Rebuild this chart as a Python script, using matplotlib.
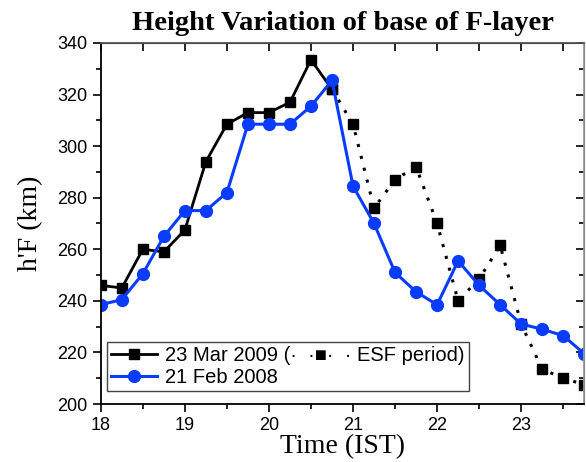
import matplotlib.pyplot as plt
from matplotlib.ticker import MultipleLocator
from matplotlib.lines import Line2D

# local time (IST), 15 min steps
time_ist = [18.0, 18.25, 18.5, 18.75, 19.0, 19.25, 19.5, 19.75,
            20.0, 20.25, 20.5, 20.75, 21.0, 21.25, 21.5, 21.75,
            22.0, 22.25, 22.5, 22.75, 23.0, 23.25, 23.5, 23.75]

# h'F (km) on 23 Mar 2009
hf_mar2009 = [246, 245, 260, 259, 267.5, 294, 308.5, 313,
              313, 317, 333.5, 322, 308.5, 276, 287, 292,
              270, 240, 248.5, 261.5, 231, 213.5, 210, 207.5]

# h'F (km) on 21 Feb 2008
hf_feb2008 = [238.5, 240.5, 250.5, 265, 275, 275, 282, 308.5,
              308.5, 308.5, 315.5, 325.5, 284.5, 270, 251, 243.5,
              238.5, 255.5, 246, 238.5, 231, 229, 226.5, 219.5]

esf_start = 11  # index where the ESF (dotted) part begins

blue = '#0a3cff'
serif = ['Liberation Serif', 'DejaVu Serif']
sans = ['Liberation Sans', 'DejaVu Sans']

fig = plt.figure(figsize=(5.86, 4.62), dpi=100)
ax = fig.add_axes([0.172, 0.1255, 0.825, 0.7815])

ax.plot(time_ist[:esf_start + 1], hf_mar2009[:esf_start + 1], color='black',
        lw=2, marker='s', ms=7.5)
ax.plot(time_ist[esf_start:], hf_mar2009[esf_start:], color='black',
        lw=2.2, ls=(0, (1, 3)), marker='s', ms=7.5)
ax.plot(time_ist, hf_feb2008, color=blue, lw=2.2, marker='o', ms=8.5)

ax.set_xlim(18, 23.75)
ax.set_ylim(200, 340)
ax.xaxis.set_major_locator(MultipleLocator(1))
ax.xaxis.set_minor_locator(MultipleLocator(0.5))
ax.yaxis.set_major_locator(MultipleLocator(20))
ax.yaxis.set_minor_locator(MultipleLocator(10))
ax.tick_params(which='major', direction='out', length=6, width=1.2, labelsize=13)
ax.tick_params(which='minor', direction='out', length=3.5, width=1.2)
for lab in ax.get_xticklabels() + ax.get_yticklabels():
    lab.set_family(sans)
for s in ax.spines.values():
    s.set_linewidth(1.3)
ax.spines['right'].set_color('#999999')
ax.spines['top'].set_color('#555555')

# inward ticks on top and right
top = ax.secondary_xaxis('top')
top.xaxis.set_major_locator(MultipleLocator(1))
top.xaxis.set_minor_locator(MultipleLocator(0.5))
top.tick_params(which='both', direction='in', labeltop=False, length=6, width=1.2)
right = ax.secondary_yaxis('right')
right.yaxis.set_major_locator(MultipleLocator(20))
right.yaxis.set_minor_locator(MultipleLocator(10))
right.tick_params(which='major', direction='in', labelright=False, length=6, width=1.2)
right.tick_params(which='minor', direction='in', length=3.5, width=1.2)

ax.set_title('Height Variation of base of F-layer', family=serif,
             fontweight='bold', fontsize=20.5, pad=9)
ax.set_xlabel('Time (IST)', family=serif, fontsize=20, labelpad=0)
ax.set_ylabel("h'F (km)", family=serif, fontsize=20, labelpad=10)

handles = [Line2D([], [], color='black', lw=2, marker='s', ms=7.5),
           Line2D([], [], color=blue, lw=2.2, marker='o', ms=8.5)]
labels = ['23 Mar 2009 (\u00b7  \u00b7\u25a0\u00b7  \u00b7 ESF period)', '21 Feb 2008']
leg = ax.legend(handles, labels, loc='lower left', bbox_to_anchor=(0.012, 0.035),
                borderaxespad=0, fancybox=False, framealpha=1, edgecolor='#444444',
                prop={'family': sans, 'size': 14.5}, handlelength=2.3,
                handletextpad=0.4, labelspacing=0.15, borderpad=0.2)
leg.get_frame().set_linewidth(1)

fig.savefig('out.png', dpi=100)
